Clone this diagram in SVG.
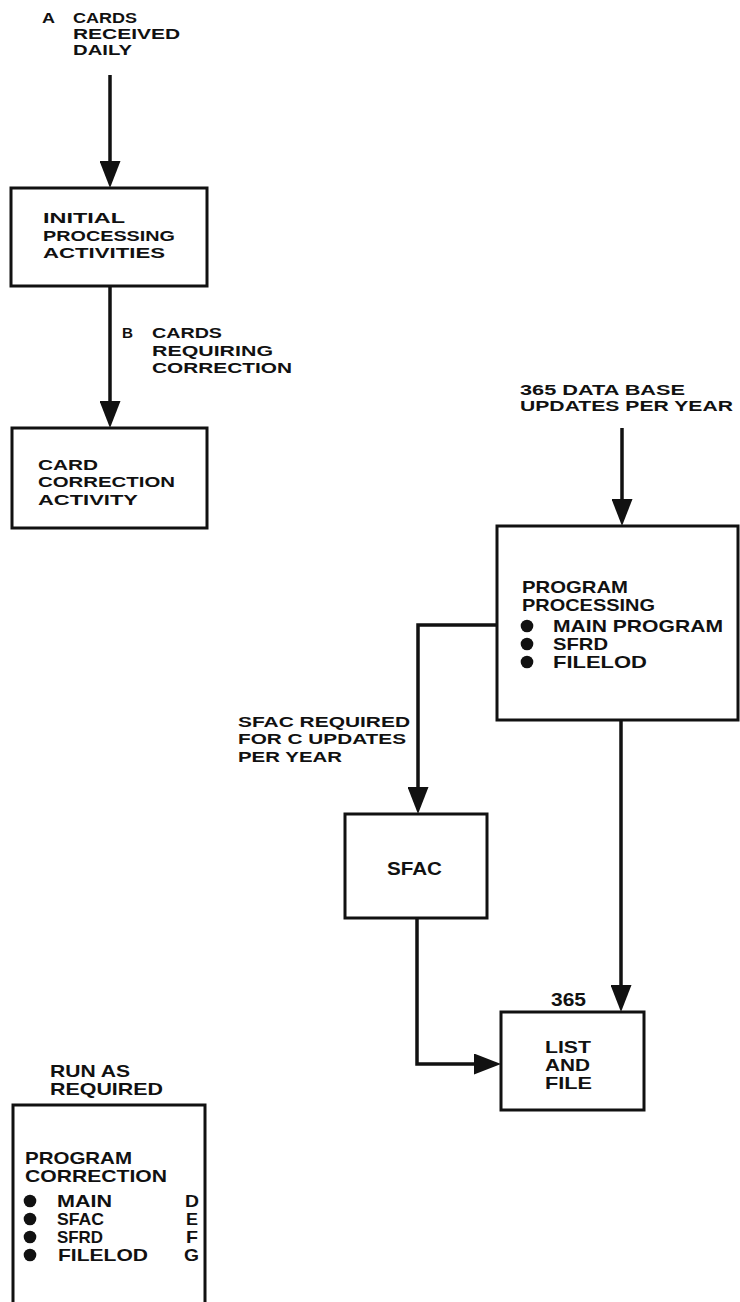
<svg xmlns="http://www.w3.org/2000/svg" width="740" height="1302" viewBox="0 0 740 1302">
<style>
text{font-family:"Liberation Sans",Arial,sans-serif;font-weight:bold;fill:#111;}
.t14{font-size:14px;}
.t15{font-size:15.3px;}
.t16{font-size:15.7px;}
.t18{font-size:18px;}
.box{fill:#fff;stroke:#111;stroke-width:3;}
.con{fill:none;stroke:#111;stroke-width:3.5;}
.dot{fill:#111;}
</style>
<defs>
<marker id="ah" markerUnits="userSpaceOnUse" markerWidth="27" markerHeight="21" refX="22" refY="10.5" orient="auto">
<path d="M0,0 L27,10.5 L0,21 z" fill="#111"/>
</marker>
</defs>
<rect width="740" height="1302" fill="#fff"/>

<g id="connectors">
<path class="con" d="M110,75 V183" marker-end="url(#ah)"/>
<path class="con" d="M110,286 V423" marker-end="url(#ah)"/>
<path class="con" d="M622,428 V521" marker-end="url(#ah)"/>
<path class="con" d="M497,625 H418 V809" marker-end="url(#ah)"/>
<path class="con" d="M417,918 V1064 H496" marker-end="url(#ah)"/>
<path class="con" d="M621,720 V1007" marker-end="url(#ah)"/>
</g>

<g id="label-a">
<text class="t14"><tspan x="42" y="23" textLength="13" lengthAdjust="spacingAndGlyphs">A</tspan><tspan x="73" y="23" textLength="64" lengthAdjust="spacingAndGlyphs">CARDS</tspan><tspan x="73" y="39" textLength="107" lengthAdjust="spacingAndGlyphs">RECEIVED</tspan><tspan x="73" y="55" textLength="59" lengthAdjust="spacingAndGlyphs">DAILY</tspan></text>
</g>

<g id="initial-processing">
<rect class="box" x="11" y="188" width="196" height="98"/>
<text class="t15"><tspan x="43" y="223" textLength="82" lengthAdjust="spacingAndGlyphs">INITIAL</tspan><tspan x="43" y="240.5" textLength="132" lengthAdjust="spacingAndGlyphs">PROCESSING</tspan><tspan x="43" y="258" textLength="122" lengthAdjust="spacingAndGlyphs">ACTIVITIES</tspan></text>
</g>

<g id="label-b">
<text class="t15"><tspan x="122" y="338" textLength="11" lengthAdjust="spacingAndGlyphs">B</tspan><tspan x="152" y="338" textLength="70" lengthAdjust="spacingAndGlyphs">CARDS</tspan><tspan x="152" y="355.5" textLength="121" lengthAdjust="spacingAndGlyphs">REQUIRING</tspan><tspan x="152" y="373" textLength="140" lengthAdjust="spacingAndGlyphs">CORRECTION</tspan></text>
</g>

<g id="card-correction">
<rect class="box" x="12" y="428" width="195" height="100"/>
<text class="t15"><tspan x="38" y="469.5" textLength="60" lengthAdjust="spacingAndGlyphs">CARD</tspan><tspan x="38" y="487" textLength="137" lengthAdjust="spacingAndGlyphs">CORRECTION</tspan><tspan x="38" y="504.5" textLength="100" lengthAdjust="spacingAndGlyphs">ACTIVITY</tspan></text>
</g>

<g id="label-365-updates">
<text class="t14"><tspan x="520" y="395" textLength="165" lengthAdjust="spacingAndGlyphs">365 DATA BASE</tspan><tspan x="520" y="411" textLength="213" lengthAdjust="spacingAndGlyphs">UPDATES PER YEAR</tspan></text>
</g>

<g id="program-processing">
<rect class="box" x="497" y="526" width="241" height="194"/>
<circle class="dot" cx="527" cy="626" r="6.3"/>
<circle class="dot" cx="527" cy="644" r="6.3"/>
<circle class="dot" cx="527" cy="662" r="6.3"/>
<text class="t16"><tspan x="522" y="593" textLength="106" lengthAdjust="spacingAndGlyphs">PROGRAM</tspan><tspan x="522" y="611" textLength="133" lengthAdjust="spacingAndGlyphs">PROCESSING</tspan><tspan x="553" y="632" textLength="170" lengthAdjust="spacingAndGlyphs">MAIN PROGRAM</tspan><tspan x="553" y="650" textLength="55" lengthAdjust="spacingAndGlyphs">SFRD</tspan><tspan x="553" y="668" textLength="94" lengthAdjust="spacingAndGlyphs">FILELOD</tspan></text>
</g>

<g id="label-sfac-required">
<text class="t15"><tspan x="238" y="726.5" textLength="172" lengthAdjust="spacingAndGlyphs">SFAC REQUIRED</tspan><tspan x="238" y="744" textLength="168" lengthAdjust="spacingAndGlyphs">FOR C UPDATES</tspan><tspan x="238" y="761.5" textLength="104" lengthAdjust="spacingAndGlyphs">PER YEAR</tspan></text>
</g>

<g id="sfac">
<rect class="box" x="345" y="814" width="142" height="104"/>
<text class="t18" x="387" y="875" textLength="55" lengthAdjust="spacingAndGlyphs">SFAC</text>
</g>

<g id="label-365">
<text class="t18" x="551" y="1006" textLength="35" lengthAdjust="spacingAndGlyphs">365</text>
</g>

<g id="list-and-file">
<rect class="box" x="501" y="1012" width="143" height="98"/>
<text class="t16"><tspan x="545" y="1053" textLength="46" lengthAdjust="spacingAndGlyphs">LIST</tspan><tspan x="545" y="1071" textLength="45" lengthAdjust="spacingAndGlyphs">AND</tspan><tspan x="545" y="1089" textLength="47" lengthAdjust="spacingAndGlyphs">FILE</tspan></text>
</g>

<g id="label-run-as-required">
<text class="t16"><tspan x="50" y="1077" textLength="80" lengthAdjust="spacingAndGlyphs">RUN AS</tspan><tspan x="50" y="1095" textLength="113" lengthAdjust="spacingAndGlyphs">REQUIRED</tspan></text>
</g>

<g id="program-correction">
<rect class="box" x="13" y="1105" width="192" height="205"/>
<circle class="dot" cx="30" cy="1201" r="6.3"/>
<circle class="dot" cx="30" cy="1219" r="6.3"/>
<circle class="dot" cx="30" cy="1237" r="6.3"/>
<circle class="dot" cx="30" cy="1255" r="6.3"/>
<text class="t16"><tspan x="25" y="1164" textLength="107" lengthAdjust="spacingAndGlyphs">PROGRAM</tspan><tspan x="25" y="1182" textLength="142" lengthAdjust="spacingAndGlyphs">CORRECTION</tspan><tspan x="57" y="1207" textLength="55" lengthAdjust="spacingAndGlyphs">MAIN</tspan><tspan x="57" y="1225" textLength="47" lengthAdjust="spacingAndGlyphs">SFAC</tspan><tspan x="57" y="1243" textLength="46" lengthAdjust="spacingAndGlyphs">SFRD</tspan><tspan x="58" y="1261" textLength="90" lengthAdjust="spacingAndGlyphs">FILELOD</tspan></text>
<text class="t16"><tspan x="185" y="1207" textLength="14" lengthAdjust="spacingAndGlyphs">D</tspan><tspan x="186" y="1225" textLength="12" lengthAdjust="spacingAndGlyphs">E</tspan><tspan x="186" y="1243" textLength="12" lengthAdjust="spacingAndGlyphs">F</tspan><tspan x="184" y="1261" textLength="15" lengthAdjust="spacingAndGlyphs">G</tspan></text>
</g>
</svg>
